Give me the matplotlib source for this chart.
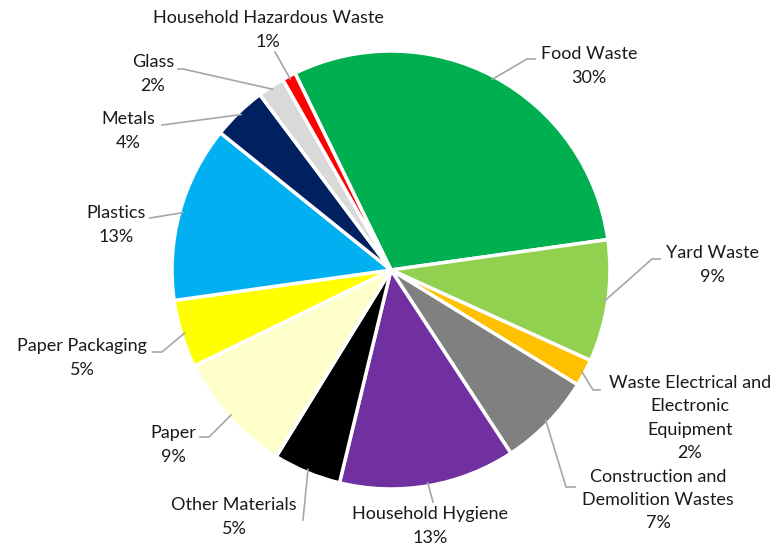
import numpy as np
import matplotlib
matplotlib.use('Agg')
import matplotlib.pyplot as plt

# Waste composition by category (percent)
categories = ['Food Waste', 'Yard Waste', 'Waste Electrical and\nElectronic\nEquipment',
              'Construction and\nDemolition Wastes', 'Household Hygiene', 'Other Materials',
              'Paper', 'Paper Packaging', 'Plastics', 'Metals', 'Glass',
              'Household Hazardous Waste']
shares = [30, 9, 2, 7, 13, 5, 9, 5, 13, 4, 2, 1]
colors = ['#00B050', '#92D050', '#FFC000', '#808080', '#7030A0', '#000000',
          '#FFFFCC', '#FFFF00', '#00B0F0', '#002060', '#D9D9D9', '#FF0000']

# label centre, leader elbow and leader end (pixel coords, y down)
label_pos = [(589, 66), (712, 265), (690, 418), (658, 500), (430, 526), (234, 517),
             (173, 445), (82, 358), (116, 225), (128, 131), (153, 74), (268, 30)]
elbows = [[(527, 59), (535, 59)], [(652, 259), (660, 259)], [(593, 390), (600, 390)],
          [(566, 487), (575, 487)], [(433, 502)], [(303, 520)],
          [(209, 437), (200, 437)], [(162, 352), (153, 352)], [(150, 218)],
          [(162, 125)], [(183, 69), (178, 69)], [(275, 52)]]

plt.rcParams['font.family'] = ['Lato', 'DejaVu Sans']
fig = plt.figure(figsize=(7.82, 5.47), dpi=100)
ax = fig.add_axes([0, 0, 1, 1])

cx, cy, r = 391, -270, 219
wedges, _ = ax.pie(shares, colors=colors, center=(cx, cy), radius=r,
                   startangle=116, counterclock=False,
                   wedgeprops=dict(edgecolor='white', linewidth=2.5))
ax.set_xlim(0, 782)
ax.set_ylim(-547, 0)
ax.set_aspect('equal')
ax.axis('off')

for w, name, val, (lx, ly), pts in zip(wedges, categories, shares, label_pos, elbows):
    mid = np.deg2rad((w.theta1 + w.theta2) / 2)
    sx, sy = cx + 216 * np.cos(mid), cy + 216 * np.sin(mid)
    xs = [sx] + [p[0] for p in pts]
    ys = [sy] + [-p[1] for p in pts]
    ax.plot(xs, ys, color='#A6A6A6', lw=1.2, zorder=1)
    ax.text(lx, -ly, f'{name}\n{val}%', ha='center', va='center',
            fontsize=13, color='#1a1a1a', linespacing=1.55)

fig.savefig('out.png', dpi=100)
